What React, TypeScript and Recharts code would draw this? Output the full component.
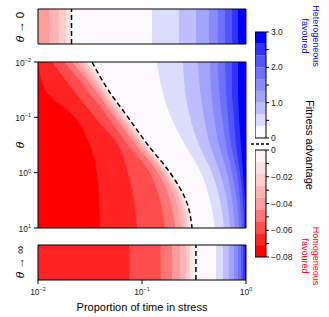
import {
  Area,
  CartesianGrid,
  ComposedChart,
  Line,
  ReferenceArea,
  ReferenceLine,
  XAxis,
  YAxis,
} from 'recharts'

const FONT = '"Liberation Sans", Arial, Helvetica, sans-serif'
const INK = '#000'
const LABEL = '#222'

// band shades, from the band next to zero out to the strongest one
const RED_SHADES = ['#fdf4f5', '#ffe4e4', '#ffcccc', '#ffb4b4', '#ff9c9c', '#ff7474', '#ff4c4c', '#ff2424', '#ff0000']
const BLUE_SHADES = ['#fbf9fe', '#dcdcfe', '#bebefe', '#a2a2ff', '#8a8aff', '#7070ff', '#5454ff', '#3030ff', '#0000ff']

const X_TICKS = [0.01, 0.1, 1]
const THETA_TICKS = [0.01, 0.1, 1, 10]

// main panel: theta rows and where each contour crosses them (proportion of time in stress)
const THETA = [0.01, 0.0316, 0.1, 0.316, 1, 3.16, 10]

const BLUE_1 = [0.139, 0.156, 0.19, 0.259, 0.369, 0.451, 0.503]
const BLUE_2 = [0.248, 0.259, 0.289, 0.353, 0.471, 0.562, 0.614]
const BLUE_3 = [0.345, 0.361, 0.395, 0.451, 0.562, 0.657, 0.702]
const BLUE_4 = [0.451, 0.461, 0.492, 0.55, 0.657, 0.734, 0.784]
const BLUE_5 = [0.538, 0.55, 0.588, 0.642, 0.734, 0.819, 0.857]
const BLUE_6 = [0.628, 0.642, 0.671, 0.718, 0.819, 0.876, 0.915]
const BLUE_7 = [0.734, 0.734, 0.767, 0.801, 0.876, 0.936, 0.957]
const BLUE_8 = [0.838, 0.838, 0.857, 0.895, 0.936, 0.978, 0.989]

const ZERO_LINE = [0.0331, 0.0471, 0.0734, 0.114, 0.186, 0.265, 0.303]

const RED_1 = [0.0316, 0.0461, 0.0717, 0.112, 0.182, 0.259, 0.293]
const RED_2 = [0.0296, 0.0441, 0.0686, 0.107, 0.174, 0.248, 0.277]
const RED_3 = [0.0271, 0.0412, 0.0642, 0.102, 0.166, 0.232, 0.259]
const RED_4 = [0.0242, 0.0386, 0.0601, 0.0957, 0.156, 0.212, 0.237]
const RED_5 = [0.0212, 0.0353, 0.055, 0.0876, 0.1425, 0.186, 0.208]
const RED_6 = [0.0178, 0.0296, 0.0471, 0.0734, 0.119, 0.149, 0.166]
const RED_7 = [0.0136, 0.0217, 0.0353, 0.0588, 0.0734, 0.0838, 0.0895]
const RED_8 = [0.01, 0.0117, 0.0227, 0.0316, 0.0369, 0.0386, 0.0395]

const BLUE_CONTOURS = [BLUE_1, BLUE_2, BLUE_3, BLUE_4, BLUE_5, BLUE_6, BLUE_7, BLUE_8]
const RED_CONTOURS = [RED_1, RED_2, RED_3, RED_4, RED_5, RED_6, RED_7, RED_8]

// theta -> 0 strip: band edges along x and the band each interval falls in
const TOP_EDGES = [0.01, 0.013, 0.0159, 0.0186, 0.0203, 0.021, 0.125, 0.227, 0.33, 0.441, 0.538, 0.628, 0.734, 0.838, 1]
const TOP_BANDS = ['r4', 'r3', 'r2', 'r1', 'r0', 'b0', 'b1', 'b2', 'b3', 'b4', 'b5', 'b6', 'b7', 'b8']
const TOP_ZERO = 0.021

// theta -> infinity strip
const BOTTOM_EDGES = [0.01, 0.075, 0.152, 0.194, 0.232, 0.265, 0.289, 0.309, 0.33, 0.515, 0.601, 0.686, 0.767, 0.838, 0.895, 0.936, 0.978, 1]
const BOTTOM_BANDS = ['r7', 'r6', 'r5', 'r4', 'r3', 'r2', 'r1', 'r0', 'b0', 'b1', 'b2', 'b3', 'b4', 'b5', 'b6', 'b7', 'b8']
const BOTTOM_ZERO = 0.33

// colour key (axis broken at 0)
const BLUE_LEVELS = [0, 0.333, 0.667, 1, 1.333, 1.667, 2, 2.333, 2.667, 3]
const BLUE_KEY_TICKS = [0, 0.5, 1, 1.5, 2, 2.5, 3]
const RED_LEVELS = [0, -0.0089, -0.0178, -0.0267, -0.0356, -0.0444, -0.0533, -0.0622, -0.0711, -0.08]
const RED_KEY_TICKS = [0, -0.01, -0.02, -0.03, -0.04, -0.05, -0.06, -0.07, -0.08]

const mainData = THETA.map((theta, i) => {
  const row: Record<string, number> = { theta, zero: ZERO_LINE[i] }
  BLUE_CONTOURS.forEach((c, k) => (row[`b${k + 1}`] = c[i]))
  RED_CONTOURS.forEach((c, k) => (row[`r${k + 1}`] = c[i]))
  return row
})

function shade(key: string) {
  const i = Number(key.slice(1))
  return key[0] === 'r' ? RED_SHADES[i] : BLUE_SHADES[i]
}

function PowTick({ x, y, payload, anchor, dy }: any) {
  const e = Math.round(Math.log10(payload.value))
  return (
    <text x={x} y={y} dy={dy} textAnchor={anchor} fontSize={8.5} fill={LABEL} fontFamily={FONT}>
      10
      <tspan dy={-3.5} fontSize={5.5}>
        {e < 0 ? `\u2212${-e}` : e}
      </tspan>
    </text>
  )
}

function KeyTick({ x, y, payload, show, fmt }: any) {
  if (!show(payload.value)) return <g />
  return (
    <text x={x} y={y} dy={3} textAnchor="start" fontSize={8.5} fill={LABEL} fontFamily={FONT}>
      {fmt(payload.value)}
    </text>
  )
}

function Strip({ top, edges, bands, zero, labels }: any) {
  return (
    <div style={{ position: 'absolute', left: 0, top }}>
      <ComposedChart
        width={262}
        height={labels ? 66 : 54}
        data={edges.map((x: number) => ({ x, y: 0.5 }))}
        margin={{ top: 9, right: 16, bottom: 2, left: 38 }}
      >
        <XAxis
          dataKey="x"
          type="number"
          scale="log"
          domain={[0.01, 1]}
          allowDataOverflow
          ticks={X_TICKS}
          interval={0}
          height={labels ? 20 : 8}
          tickSize={4}
          tickMargin={2}
          axisLine={false}
          tickLine={{ stroke: INK }}
          tick={labels ? (p: any) => <PowTick {...p} anchor="middle" dy={8.5} /> : false}
        />
        <YAxis dataKey="y" type="number" domain={[0, 1]} allowDataOverflow hide />
        {bands.map((b: string, i: number) => (
          <ReferenceArea
            key={i}
            x1={edges[i]}
            x2={edges[i + 1]}
            y1={0}
            y2={1}
            fill={shade(b)}
            fillOpacity={1}
            stroke="none"
            ifOverflow="visible"
          />
        ))}
        <ReferenceLine x={zero} stroke={INK} strokeWidth={1.5} strokeDasharray="5 3" ifOverflow="visible" />
        <ReferenceArea x1={0.01} x2={1} y1={0} y2={1} fill="none" stroke={INK} strokeWidth={1} ifOverflow="visible" />
      </ComposedChart>
    </div>
  )
}

function ColourKey({ top, height, levels, shades, ticks, domain, show, fmt }: any) {
  return (
    <div style={{ position: 'absolute', left: 255, top }}>
      <ComposedChart
        width={45}
        height={height}
        data={levels.map((v: number) => ({ u: 0.5, v }))}
        margin={{ top: 10, right: 0, bottom: 10, left: 0 }}
      >
        <XAxis dataKey="u" type="number" domain={[0, 1]} allowDataOverflow hide />
        <YAxis
          dataKey="v"
          type="number"
          orientation="right"
          domain={domain}
          allowDataOverflow
          ticks={ticks}
          interval={0}
          width={34}
          tickSize={3}
          tickMargin={2}
          axisLine={false}
          tickLine={{ stroke: INK }}
          tick={(p: any) => <KeyTick {...p} show={show} fmt={fmt} />}
        />
        {levels.slice(0, -1).map((lv: number, i: number) => (
          <ReferenceArea
            key={i}
            x1={0}
            x2={1}
            y1={lv}
            y2={levels[i + 1]}
            fill={shades[i]}
            fillOpacity={1}
            stroke="none"
            ifOverflow="visible"
          />
        ))}
        <ReferenceArea x1={0} x2={1} y1={domain[0]} y2={domain[1]} fill="none" stroke={INK} ifOverflow="visible" />
      </ComposedChart>
    </div>
  )
}

export default function App() {
  return (
    <div
      style={{
        position: 'absolute',
        left: 0,
        top: 0,
        width: 329,
        height: 317,
        background: '#fff',
        fontFamily: FONT,
      }}
    >
      <Strip top={0} edges={TOP_EDGES} bands={TOP_BANDS} zero={TOP_ZERO} />

      <div style={{ position: 'absolute', left: 0, top: 50 }}>
        <ComposedChart
          layout="vertical"
          width={250}
          height={188}
          data={mainData}
          margin={{ top: 12, right: 4, bottom: 2, left: 0 }}
        >
          <CartesianGrid horizontal={false} vertical={false} fill={BLUE_SHADES[8]} fillOpacity={1} />
          <XAxis
            type="number"
            scale="log"
            domain={[0.01, 1]}
            allowDataOverflow
            ticks={X_TICKS}
            interval={0}
            height={8}
            tickSize={4}
            axisLine={false}
            tickLine={{ stroke: INK }}
            tick={false}
          />
          <YAxis
            dataKey="theta"
            type="number"
            scale="log"
            domain={[0.01, 10]}
            allowDataOverflow
            ticks={THETA_TICKS}
            interval={0}
            width={38}
            tickSize={4}
            tickMargin={3}
            axisLine={false}
            tickLine={{ stroke: INK }}
            tick={(p: any) => <PowTick {...p} anchor="end" dy={3.5} />}
          />
          {[8, 7, 6, 5, 4, 3, 2, 1].map((n) => (
            <Area
              key={`b${n}`}
              dataKey={`b${n}`}
              type="monotone"
              baseValue="dataMin"
              fill={BLUE_SHADES[n - 1]}
              fillOpacity={1}
              stroke="none"
              dot={false}
              activeDot={false}
              isAnimationActive={false}
            />
          ))}
          <Area
            dataKey="zero"
            type="monotone"
            baseValue="dataMin"
            fill={RED_SHADES[0]}
            fillOpacity={1}
            stroke="none"
            dot={false}
            activeDot={false}
            isAnimationActive={false}
          />
          {[1, 2, 3, 4, 5, 6, 7, 8].map((n) => (
            <Area
              key={`r${n}`}
              dataKey={`r${n}`}
              type="monotone"
              baseValue="dataMin"
              fill={RED_SHADES[n]}
              fillOpacity={1}
              stroke="none"
              dot={false}
              activeDot={false}
              isAnimationActive={false}
            />
          ))}
          <Line
            dataKey="zero"
            type="monotone"
            stroke={INK}
            strokeWidth={1.5}
            strokeDasharray="5 3"
            dot={false}
            activeDot={false}
            isAnimationActive={false}
          />
          <ReferenceArea x1={0.01} x2={1} y1={0.01} y2={10} fill="none" stroke={INK} ifOverflow="visible" />
        </ComposedChart>
      </div>

      <Strip top={236} edges={BOTTOM_EDGES} bands={BOTTOM_BANDS} zero={BOTTOM_ZERO} labels />

      <ColourKey
        top={22}
        height={126}
        levels={BLUE_LEVELS}
        shades={BLUE_SHADES}
        ticks={BLUE_KEY_TICKS}
        domain={[0, 3]}
        show={(v: number) => Number.isInteger(v)}
        fmt={(v: number) => (v === 0 ? '0' : v.toFixed(1))}
      />
      <ColourKey
        top={140}
        height={127}
        levels={RED_LEVELS}
        shades={RED_SHADES}
        ticks={RED_KEY_TICKS}
        domain={[-0.08, 0]}
        show={(v: number) => Math.round(v * 100) % 2 === 0}
        fmt={(v: number) => (v === 0 ? '0' : `\u2212${Math.abs(v).toFixed(2)}`)}
      />

      <svg
        width={329}
        height={317}
        style={{ position: 'absolute', left: 0, top: 0, pointerEvents: 'none' }}
        fontFamily={FONT}
      >
        <line x1={251} y1={144} x2={270} y2={144} stroke={INK} strokeWidth={1.3} strokeDasharray="3 2" />
        <text transform="translate(24,27) rotate(-90)" textAnchor="middle" fontSize={11.5} fill={INK}>
          <tspan fontStyle="italic">θ</tspan> → 0
        </text>
        <text transform="translate(24,145) rotate(-90)" textAnchor="middle" fontSize={11.5} fill={INK} fontStyle="italic">
          θ
        </text>
        <text transform="translate(24,262) rotate(-90)" textAnchor="middle" fontSize={11.5} fill={INK}>
          <tspan fontStyle="italic">θ</tspan> → ∞
        </text>
        <text x={142} y={311} textAnchor="middle" fontSize={11} fill={INK}>
          Proportion of time in stress
        </text>
        <text transform="translate(306,145) rotate(90)" textAnchor="middle" fontSize={11} fill={INK}>
          Fitness advantage
        </text>
        <text transform="translate(312.5,36) rotate(90)" textAnchor="middle" fontSize={9} fill="#0000ff">
          Heterogeneous
        </text>
        <text transform="translate(302,36) rotate(90)" textAnchor="middle" fontSize={9} fill="#0000ff">
          favoured
        </text>
        <text transform="translate(312.5,256) rotate(90)" textAnchor="middle" fontSize={9} fill="#ff0000">
          Homogeneous
        </text>
        <text transform="translate(302,256) rotate(90)" textAnchor="middle" fontSize={9} fill="#ff0000">
          favoured
        </text>
      </svg>
    </div>
  )
}
